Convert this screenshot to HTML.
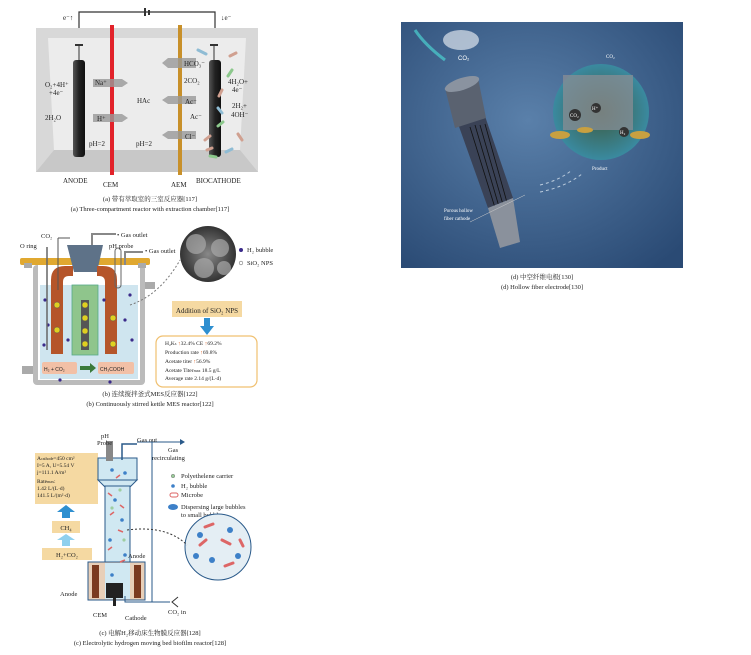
<!DOCTYPE html>
<html><head><meta charset="utf-8"><style>
body{margin:0;background:#fff;width:751px;height:655px;overflow:hidden}
svg{display:block}
text{font-family:"Liberation Serif","Noto Serif CJK SC",serif;fill:#222}
.s{font-family:"Liberation Sans",sans-serif}
</style></head><body>
<svg width="751" height="655" viewBox="0 0 751 655" xmlns="http://www.w3.org/2000/svg">
<defs>
<radialGradient id="bg" cx="45%" cy="40%" r="75%"><stop offset="0" stop-color="#5a80aa"/><stop offset="1" stop-color="#2a4a74"/></radialGradient>
<linearGradient id="rod" x1="0" x2="1"><stop offset="0" stop-color="#555"/><stop offset=".5" stop-color="#222"/><stop offset="1" stop-color="#111"/></linearGradient>
<radialGradient id="sem" cx="50%" cy="50%" r="50%"><stop offset="0" stop-color="#888"/><stop offset="1" stop-color="#333"/></radialGradient>
<radialGradient id="zoomc" cx="50%" cy="50%" r="50%"><stop offset="0" stop-color="#3c5a40"/><stop offset="1" stop-color="#3a8aa0"/></radialGradient>
</defs>

<!-- Panel a -->
<rect x="36" y="28" width="222" height="144" fill="#d8d8d8"/>
<polygon points="48,38 246,38 240,150 54,150" fill="#ececec"/>
<polygon points="36,172 258,172 240,150 54,150" fill="#c8c8c8"/>
<polyline points="79,28 79,12 215,12 215,28" fill="none" stroke="#333" stroke-width="1.2"/>
<rect x="144" y="8" width="2" height="8" fill="#333"/><rect x="148" y="10" width="2" height="5" fill="#333"/>
<text x="63" y="20" font-size="7">e⁻↑</text><text x="221" y="20" font-size="7">↓e⁻</text>
<line x1="79" y1="46" x2="79" y2="60" stroke="#333"/><rect x="75" y="44" width="8" height="2" fill="#333"/>
<rect x="73" y="60" width="12" height="97" rx="3" fill="url(#rod)"/>
<line x1="214" y1="46" x2="214" y2="60" stroke="#333"/><rect x="210" y="44" width="8" height="2" fill="#333"/>
<rect x="209" y="60" width="12" height="97" rx="3" fill="url(#rod)"/>
<rect x="110" y="25" width="4" height="150" fill="#e2222a"/>
<rect x="178" y="25" width="4" height="150" fill="#c8902a"/>
<g fill="#999" opacity=".8">
<polygon points="93,79 122,79 128,83 122,87 93,87"/><polygon points="93,114 122,114 128,118 122,122 93,122"/>
<polygon points="196,58 168,58 162,63 168,68 196,68"/><polygon points="196,96 168,96 162,100 168,104 196,104"/><polygon points="196,131 168,131 162,135 168,139 196,139"/>
</g>
<g font-size="7">
<text x="45" y="87">O₂+4H⁺</text><text x="49" y="95">+4e⁻</text><text x="45" y="120">2H₂O</text>
<text x="95" y="85">Na⁺</text><text x="97" y="121">H⁺</text><text x="137" y="103">HAc</text>
<text x="89" y="146">pH=2</text><text x="136" y="146">pH=2</text>
<text x="184" y="66">HCO₃⁻</text><text x="184" y="83">2CO₂</text><text x="185" y="104">Ac⁻</text><text x="190" y="119">Ac⁻</text><text x="185" y="139">Cl⁻</text>
<text x="228" y="84">4H₂O+</text><text x="232" y="92">4e⁻</text><text x="232" y="108">2H₂+</text><text x="231" y="117">4OH⁻</text>
<text x="63" y="183">ANODE</text><text x="103" y="187">CEM</text><text x="171" y="187">AEM</text><text x="196" y="183">BIOCATHODE</text>
</g>
<g stroke-width="3" stroke-linecap="round" fill="none">
<path d="M198,50 l8,4" stroke="#8fbcd4"/><path d="M230,56 l6,-3" stroke="#d0a090"/><path d="M232,70 l-4,6" stroke="#8cc88c"/><path d="M222,90 l-3,6" stroke="#d0a090"/><path d="M218,108 l4,5" stroke="#8fbcd4"/><path d="M218,126 l5,-4" stroke="#8cc88c"/><path d="M210,136 l-5,4" stroke="#d0a090"/><path d="M238,134 l4,6" stroke="#d0a090"/><path d="M212,148 l-5,2" stroke="#d0a090"/><path d="M226,152 l6,-3" stroke="#8fbcd4"/><path d="M216,157 l-6,-1" stroke="#8cc88c"/>
</g>
<text x="150" y="201" font-size="6.5" text-anchor="middle">(a) 带有萃取室的三室反应器[117]</text>
<text x="150" y="211" font-size="6.5" text-anchor="middle">(a) Three-compartment reactor with extraction chamber[117]</text>

<!-- Panel b -->
<rect x="33" y="265" width="112" height="120" rx="4" fill="#bbb"/>
<rect x="38" y="265" width="102" height="115" fill="#fff"/>
<rect x="40" y="285" width="98" height="94" fill="#cfe5ef"/>
<rect x="20" y="258" width="130" height="7" rx="2" fill="#e0a830"/>
<rect x="22" y="366" width="11" height="8" fill="#aaa"/><rect x="145" y="282" width="10" height="7" fill="#aaa"/><rect x="24" y="263" width="8" height="5" fill="#aaa"/><rect x="138" y="263" width="8" height="5" fill="#aaa"/>
<polygon points="67,245 103,245 97,272 74,272" fill="#5e7288"/>
<path d="M51,296 v-16 q0,-14 14,-14 h8 v10 h-4 q-6,0 -6,6 v14 z" fill="#b5552a"/>
<path d="M117,296 v-16 q0,-14 -14,-14 h-6 v10 h2 q6,0 6,6 v14 z" fill="#b5552a"/>
<rect x="51" y="296" width="12" height="58" fill="#b5552a"/><rect x="105" y="296" width="12" height="58" fill="#b5552a"/>
<rect x="72" y="285" width="26" height="70" fill="#8fc58c" stroke="#5a8" stroke-width=".8"/>
<rect x="81" y="300" width="8" height="50" fill="#555"/>
<rect x="42" y="362" width="35" height="12" rx="2" fill="#f2c0a6"/><rect x="98" y="362" width="36" height="12" rx="2" fill="#f2c0a6"/>
<text x="44" y="371" font-size="5" class="s">H₂ + CO₂</text><text x="100" y="371" font-size="5" class="s">CH₃COOH</text>
<polygon points="80,366 90,366 90,363 96,368 90,373 90,370 80,370" fill="#3a7a3a"/>
<g fill="#e0d020" stroke="#555" stroke-width=".5"><circle cx="57" cy="305" r="3"/><circle cx="57" cy="330" r="3"/><circle cx="85" cy="305" r="3"/><circle cx="85" cy="318" r="3"/><circle cx="85" cy="331" r="3"/><circle cx="85" cy="344" r="3"/><circle cx="113" cy="318" r="3"/><circle cx="113" cy="344" r="3"/></g>
<g fill="#3a2a8a"><circle cx="45" cy="300" r="1.6"/><circle cx="48" cy="325" r="1.6"/><circle cx="44" cy="345" r="1.6"/><circle cx="68" cy="340" r="1.6"/><circle cx="130" cy="295" r="1.6"/><circle cx="125" cy="320" r="1.6"/><circle cx="132" cy="340" r="1.6"/><circle cx="104" cy="300" r="1.6"/><circle cx="60" cy="380" r="1.6"/><circle cx="110" cy="382" r="1.6"/></g>
<line x1="47" y1="247" x2="47" y2="350" stroke="#666" stroke-width="1.5"/>
<line x1="58" y1="238" x2="58" y2="290" stroke="#555"/><line x1="58" y1="238" x2="70" y2="238" stroke="#555"/>
<rect x="115" y="248" width="6" height="40" rx="3" fill="none" stroke="#666"/>
<polyline points="92,245 92,234 116,234" fill="none" stroke="#888" stroke-width="2"/>
<polyline points="125,265 125,252 143,252" fill="none" stroke="#888" stroke-width="2"/>
<g font-size="6.5"><text x="20" y="248">O ring</text><text x="41" y="238">CO₂</text><text x="117" y="237">• Gas outlet</text><text x="109" y="248">pH probe</text><text x="145" y="253">• Gas outlet</text></g>
<circle cx="208" cy="254" r="28" fill="url(#sem)"/>
<g fill="#aaa" opacity=".7"><circle cx="196" cy="244" r="10"/><circle cx="220" cy="248" r="9"/><circle cx="204" cy="268" r="10"/><circle cx="224" cy="268" r="7"/></g>
<path d="M130,305 q30,-10 50,-45" fill="none" stroke="#777" stroke-dasharray="2,2"/>
<circle cx="241" cy="250" r="2" fill="#3a2a8a"/><text x="247" y="252" font-size="6.5">H₂ bubble</text>
<circle cx="241" cy="263" r="1.8" fill="#fff" stroke="#777" stroke-width=".6"/><text x="247" y="265" font-size="6.5">SiO₂ NPS</text>
<rect x="172" y="301" width="70" height="16" fill="#f5d9a2"/>
<text x="207" y="313" font-size="7" text-anchor="middle">Addition of SiO₂ NPS</text>
<polygon points="204,318 210,318 210,326 214,326 207,335 200,326 204,326" fill="#2e8fd0"/>
<rect x="156" y="336" width="101" height="51" rx="7" fill="#fff" stroke="#f0c070" stroke-width="1.2"/>
<g font-size="5.5"><text x="165" y="345">H₂K<tspan font-size="4">s</tspan> <tspan fill="#e06020">↑</tspan>32.4%  CE <tspan fill="#e06020">↑</tspan>69.2%</text>
<text x="165" y="354">Production rate  <tspan fill="#e06020">↑</tspan>69.8%</text><text x="165" y="363">Acetate titer  <tspan fill="#e06020">↑</tspan>56.9%</text>
<text x="165" y="372">Acetate Titer<tspan font-size="4">max</tspan> 18.5 g/L</text><text x="165" y="380">Average rate 2.14 g/(L·d)</text></g>
<text x="150" y="396" font-size="6.5" text-anchor="middle">(b) 连续搅拌釜式MES反应器[122]</text>
<text x="150" y="406" font-size="6.5" text-anchor="middle">(b) Continuously stirred kettle MES reactor[122]</text>

<!-- Panel c -->
<rect x="35" y="453" width="63" height="51" fill="#f5d9a2"/>
<g font-size="5.5"><text x="37" y="460">A<tspan font-size="4">cathode</tspan>=450 cm²</text><text x="37" y="467">I=5 A, U=5.54 V</text><text x="37" y="474">j=111.1 A/m²</text><text x="37" y="483">Rate<tspan font-size="4">max</tspan>:</text><text x="37" y="490">1.42 L/(L·d)</text><text x="37" y="497">141.5 L/(m²·d)</text></g>
<polygon points="62,518 70,518 70,512 75,512 66,505 57,512 62,512" fill="#2e8fd0"/>
<rect x="52" y="521" width="28" height="12" fill="#f5d9a2"/><text x="66" y="530" font-size="6.5" text-anchor="middle">CH₄</text>
<polygon points="62,546 70,546 70,540 75,540 66,534 57,540 62,540" fill="#8fd0ee"/>
<rect x="42" y="548" width="50" height="12" fill="#f5d9a2"/><text x="67" y="557" font-size="6.5" text-anchor="middle">H₂+CO₂</text>
<rect x="98" y="458" width="39" height="22" fill="#d0e8f2" stroke="#2a5a8a"/>
<polygon points="98,480 137,480 130,487 105,487" fill="#d0e8f2" stroke="#2a5a8a"/>
<rect x="105" y="486" width="25" height="77" fill="#d0e8f2" stroke="#2a5a8a"/>
<rect x="88" y="562" width="57" height="38" fill="#e8cfb8" stroke="#2a5a8a"/>
<rect x="92" y="565" width="7" height="33" fill="#7a3a20"/><rect x="134" y="565" width="7" height="33" fill="#7a3a20"/>
<rect x="105" y="563" width="25" height="36" fill="#d0e8f2"/>
<rect x="106" y="583" width="17" height="15" fill="#222"/><rect x="113" y="598" width="3" height="8" fill="#222"/>
<rect x="106" y="441" width="7" height="20" fill="#888"/>
<polyline points="122,460 122,444 137,444" fill="none" stroke="#2a5a8a" stroke-width="1.5"/>
<line x1="137" y1="442" x2="180" y2="442" stroke="#2a5a8a"/><polygon points="180,439 185,442 180,445" fill="#2a5a8a"/>
<line x1="152" y1="442" x2="152" y2="602" stroke="#2a5a8a"/>
<polyline points="125,596 125,602 170,602" fill="none" stroke="#2a5a8a"/>
<path d="M178,597 l-6,5 l6,5" fill="none" stroke="#333"/>
<g fill="#3d80c8"><circle cx="112" cy="470" r="1.8"/><circle cx="125" cy="473" r="1.8"/><circle cx="115" cy="500" r="1.8"/><circle cx="122" cy="520" r="1.8"/><circle cx="110" cy="540" r="1.8"/><circle cx="125" cy="555" r="1.8"/><circle cx="112" cy="575" r="1.8"/></g>
<g fill="none" stroke="#d66" stroke-width="1.5"><path d="M116,478 l4,-3"/><path d="M108,493 l4,3"/><path d="M120,505 l4,3"/><path d="M110,515 l4,-3"/><path d="M118,530 l5,2"/><path d="M108,550 l4,-3"/><path d="M120,562 l5,-2"/></g>
<g fill="#9c9" opacity=".9"><circle cx="120" cy="490" r="1.6"/><circle cx="112" cy="508" r="1.6"/><circle cx="124" cy="540" r="1.6"/></g>
<g font-size="6.5"><text x="101" y="438">pH</text><text x="97" y="445">Probe</text><text x="137" y="442">Gas out</text><text x="168" y="452">Gas</text><text x="152" y="460">recirculating</text>
<text x="128" y="558">Anode</text><text x="60" y="596">Anode</text><text x="93" y="617">CEM</text><text x="125" y="620">Cathode</text><text x="168" y="614">CO₂ in</text></g>
<circle cx="173" cy="476" r="1.8" fill="#9c9" stroke="#777" stroke-width=".5"/><text x="181" y="478" font-size="6.5">Polyethelene carrier</text>
<circle cx="173" cy="486" r="1.8" fill="#3d80c8"/><text x="181" y="488" font-size="6.5">H₂ bubble</text>
<rect x="170" y="493" width="8" height="4" rx="2" fill="#fff" stroke="#d66"/><text x="181" y="497" font-size="6.5">Microbe</text>
<ellipse cx="173" cy="507" rx="5" ry="3" fill="#3d80c8"/><text x="181" y="509" font-size="6.5">Dispersing large bubbles</text><text x="181" y="517" font-size="6.5">to small bubbles</text>
<circle cx="218" cy="547" r="33" fill="#e4eef4" stroke="#2a5a8a"/>
<g fill="#3d80c8"><circle cx="200" cy="535" r="3"/><circle cx="230" cy="530" r="3"/><circle cx="212" cy="560" r="3"/><circle cx="238" cy="556" r="3"/><circle cx="196" cy="556" r="3"/></g>
<g stroke="#d66" stroke-width="3" stroke-linecap="round"><path d="M205,527 l8,-3"/><path d="M222,540 l8,4"/><path d="M200,545 l6,-5"/><path d="M225,566 l8,-3"/><path d="M240,540 l3,6"/></g>
<path d="M127,530 q40,-5 60,15" fill="none" stroke="#333" stroke-dasharray="2,2"/>
<text x="150" y="635" font-size="6.5" text-anchor="middle">(c) 电解H₂移动床生物膜反应器[128]</text>
<text x="150" y="645" font-size="6.5" text-anchor="middle">(c) Electrolytic hydrogen moving bed biofilm reactor[128]</text>

<!-- Panel d -->
<rect x="401" y="22" width="282" height="246" fill="url(#bg)"/>
<ellipse cx="461" cy="40" rx="18" ry="10" fill="#dde4ec" opacity=".7"/>
<text x="458" y="60" font-size="6" class="s" style="fill:#fff">CO₂</text>
<path d="M415,30 q10,15 30,30" stroke="#4cd0d0" stroke-width="3" fill="none" opacity=".7"/>
<polygon points="446,90 473,81 513,198 488,208" fill="#3a4256"/>
<g stroke="#111" stroke-width=".8"><line x1="475" y1="125" x2="500" y2="210"/><line x1="480" y1="125" x2="504" y2="208"/><line x1="485" y1="124" x2="508" y2="206"/><line x1="470" y1="127" x2="496" y2="211"/></g>
<polygon points="445,88 478,78 486,118 455,128" fill="#5a6270"/>
<ellipse cx="462" cy="84" rx="18" ry="6" fill="#8a93a0" transform="rotate(-18 462 84)"/>
<polygon points="488,208 513,198 520,242 500,248" fill="#8a919c"/>
<circle cx="601" cy="112" r="48" fill="url(#zoomc)"/>
<rect x="563" y="75" width="70" height="55" fill="#8a8e94" opacity=".75"/>
<g fill="#c8a040"><ellipse cx="560" cy="135" rx="10" ry="4"/><ellipse cx="585" cy="130" rx="8" ry="3"/><ellipse cx="640" cy="135" rx="10" ry="4"/></g>
<circle cx="575" cy="115" r="6" fill="#333"/><circle cx="596" cy="108" r="5" fill="#333"/><circle cx="624" cy="132" r="5" fill="#333"/>
<g font-size="5" class="s"><text x="606" y="58" style="fill:#fff">CO₂</text><text x="570" y="117" style="fill:#fff">CO₂</text><text x="592" y="110" style="fill:#fff">H⁺</text><text x="620" y="134" style="fill:#fff">H₂</text><text x="592" y="170" style="fill:#fff">Product</text><text x="444" y="212" style="fill:#fff">Porous hollow</text><text x="444" y="220" style="fill:#fff">fiber cathode</text></g>
<line x1="470" y1="222" x2="525" y2="195" stroke="#ccc" stroke-width=".5"/>
<path d="M540,185 q20,-5 32,-15 M540,192 q25,-5 42,-18" stroke="#bcd" fill="none" stroke-dasharray="3,3"/>
<text x="542" y="279" font-size="6.5" text-anchor="middle">(d) 中空纤维电极[130]</text>
<text x="542" y="289" font-size="6.5" text-anchor="middle">(d) Hollow fiber electrode[130]</text>
</svg>
</body></html>
